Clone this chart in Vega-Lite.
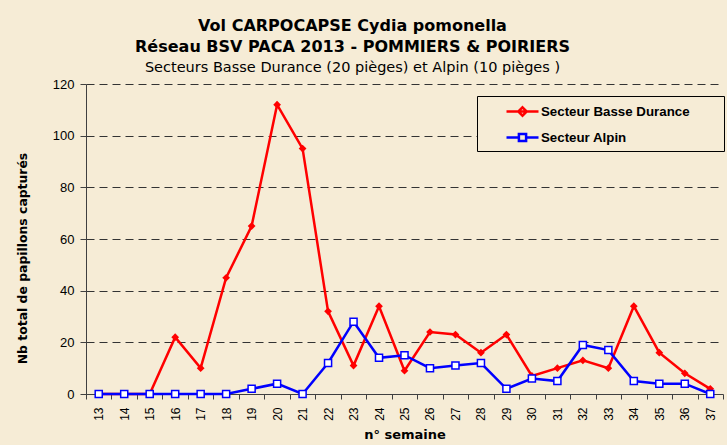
{
  "$schema": "https://vega.github.io/schema/vega-lite/v6.json",
  "width": 637,
  "height": 310,
  "autosize": "none",
  "padding": {"left": 86, "top": 84, "right": 4, "bottom": 51},
  "background": "#F6ECD6",
  "title": {
    "text": ["Vol  CARPOCAPSE Cydia pomonella", "Réseau BSV PACA 2013 - POMMIERS & POIRIERS"],
    "subtitle": "Secteurs Basse Durance (20 pièges) et Alpin (10 pièges )",
    "anchor": "middle",
    "frame": "group",
    "dx": -52,
    "font": "DejaVu Sans",
    "fontSize": 16,
    "fontWeight": "bold",
    "lineHeight": 21,
    "color": "#000000",
    "subtitleFont": "DejaVu Sans",
    "subtitleFontSize": 14.5,
    "subtitleColor": "#000000",
    "subtitlePadding": 6,
    "offset": 4
  },
  "data": {
    "values": [
      {"week": 13, "series": "Secteur Basse Durance", "value": 0},
      {"week": 14, "series": "Secteur Basse Durance", "value": 0},
      {"week": 15, "series": "Secteur Basse Durance", "value": 0},
      {"week": 16, "series": "Secteur Basse Durance", "value": 22},
      {"week": 17, "series": "Secteur Basse Durance", "value": 10},
      {"week": 18, "series": "Secteur Basse Durance", "value": 45},
      {"week": 19, "series": "Secteur Basse Durance", "value": 65},
      {"week": 20, "series": "Secteur Basse Durance", "value": 112},
      {"week": 21, "series": "Secteur Basse Durance", "value": 95},
      {"week": 22, "series": "Secteur Basse Durance", "value": 32},
      {"week": 23, "series": "Secteur Basse Durance", "value": 11},
      {"week": 24, "series": "Secteur Basse Durance", "value": 34},
      {"week": 25, "series": "Secteur Basse Durance", "value": 9},
      {"week": 26, "series": "Secteur Basse Durance", "value": 24},
      {"week": 27, "series": "Secteur Basse Durance", "value": 23},
      {"week": 28, "series": "Secteur Basse Durance", "value": 16},
      {"week": 29, "series": "Secteur Basse Durance", "value": 23},
      {"week": 30, "series": "Secteur Basse Durance", "value": 7},
      {"week": 31, "series": "Secteur Basse Durance", "value": 10},
      {"week": 32, "series": "Secteur Basse Durance", "value": 13},
      {"week": 33, "series": "Secteur Basse Durance", "value": 10},
      {"week": 34, "series": "Secteur Basse Durance", "value": 34},
      {"week": 35, "series": "Secteur Basse Durance", "value": 16},
      {"week": 36, "series": "Secteur Basse Durance", "value": 8},
      {"week": 37, "series": "Secteur Basse Durance", "value": 2},
      {"week": 13, "series": "Secteur Alpin", "value": 0},
      {"week": 14, "series": "Secteur Alpin", "value": 0},
      {"week": 15, "series": "Secteur Alpin", "value": 0},
      {"week": 16, "series": "Secteur Alpin", "value": 0},
      {"week": 17, "series": "Secteur Alpin", "value": 0},
      {"week": 18, "series": "Secteur Alpin", "value": 0},
      {"week": 19, "series": "Secteur Alpin", "value": 2},
      {"week": 20, "series": "Secteur Alpin", "value": 4},
      {"week": 21, "series": "Secteur Alpin", "value": 0},
      {"week": 22, "series": "Secteur Alpin", "value": 12},
      {"week": 23, "series": "Secteur Alpin", "value": 28},
      {"week": 24, "series": "Secteur Alpin", "value": 14},
      {"week": 25, "series": "Secteur Alpin", "value": 15},
      {"week": 26, "series": "Secteur Alpin", "value": 10},
      {"week": 27, "series": "Secteur Alpin", "value": 11},
      {"week": 28, "series": "Secteur Alpin", "value": 12},
      {"week": 29, "series": "Secteur Alpin", "value": 2},
      {"week": 30, "series": "Secteur Alpin", "value": 6},
      {"week": 31, "series": "Secteur Alpin", "value": 5},
      {"week": 32, "series": "Secteur Alpin", "value": 19},
      {"week": 33, "series": "Secteur Alpin", "value": 17},
      {"week": 34, "series": "Secteur Alpin", "value": 5},
      {"week": 35, "series": "Secteur Alpin", "value": 4},
      {"week": 36, "series": "Secteur Alpin", "value": 4},
      {"week": 37, "series": "Secteur Alpin", "value": 0}
    ]
  },
  "encoding": {
    "x": {
      "field": "week",
      "type": "ordinal",
      "scale": {"type": "band", "paddingInner": 0, "paddingOuter": 0},
      "axis": {
        "title": "n° semaine",
        "labelAngle": -90,
        "labelFontSize": 12,
        "labelPadding": 8,
        "tickBand": "extent",
        "tickSize": 5,
        "tickColor": "#404040",
        "domainColor": "#404040",
        "titleFont": "DejaVu Sans",
        "titleFontSize": 13,
        "titleFontWeight": "bold",
        "titlePadding": 8,
        "grid": false
      }
    },
    "y": {
      "field": "value",
      "type": "quantitative",
      "scale": {"domain": [0, 120], "nice": false},
      "axis": {
        "title": "Nb total de papillons capturés",
        "values": [0, 20, 40, 60, 80, 100, 120],
        "grid": true,
        "gridDash": [8, 5],
        "gridColor": "#333333",
        "gridWidth": 1,
        "gridOpacity": 1,
        "domainColor": "#404040",
        "tickColor": "#404040",
        "tickSize": 6,
        "labelFontSize": 13,
        "labelPadding": 6,
        "titleFont": "DejaVu Sans",
        "titleFontSize": 12.4,
        "titleFontWeight": "bold",
        "titlePadding": 23,
        "titleY": 174
      }
    }
  },
  "layer": [
    {
      "transform": [{"filter": "datum.series === 'Secteur Basse Durance'"}],
      "mark": {"type": "line", "color": "#FF0000", "strokeWidth": 2.5}
    },
    {
      "transform": [{"filter": "datum.series === 'Secteur Basse Durance'"}],
      "mark": {"type": "point", "shape": "diamond", "filled": true, "color": "#FF0000", "size": 60, "opacity": 1}
    },
    {
      "transform": [{"filter": "datum.series === 'Secteur Alpin'"}],
      "mark": {"type": "line", "color": "#0000FF", "strokeWidth": 2.5}
    },
    {
      "transform": [{"filter": "datum.series === 'Secteur Alpin'"}],
      "mark": {"type": "point", "shape": "square", "filled": false, "fill": "#FFFFFF", "fillOpacity": 1, "stroke": "#0000FF", "strokeWidth": 1.5, "size": 50, "opacity": 1}
    },
    {
      "mark": {"type": "point", "opacity": 0},
      "encoding": {
        "color": {
          "field": "series",
          "type": "nominal",
          "scale": {"domain": ["Secteur Basse Durance", "Secteur Alpin"], "range": ["#FF0000", "#0000FF"]},
          "legend": {
            "title": null,
            "orient": "none",
            "legendX": 391,
            "legendY": 12,
            "padding": 4,
            "strokeColor": "#000000",
            "fillColor": "#F6ECD6",
            "symbolSize": 400,
            "symbolOffset": 30,
            "symbolStrokeWidth": 2.5,
            "labelOffset": 7,
            "labelFont": "Liberation Sans",
            "labelFontSize": 13.3,
            "labelFontWeight": "bold",
            "labelColor": "#000000",
            "labelLimit": 260,
            "labelExpr": "datum.label + '\u2800\u2800\u2800'",
            "rowPadding": 5
          }
        },
        "fill": {
          "field": "series",
          "type": "nominal",
          "scale": {"domain": ["Secteur Basse Durance", "Secteur Alpin"], "range": ["#FF0000", "#FFFFFF"]}
        },
        "shape": {
          "field": "series",
          "type": "nominal",
          "scale": {
            "domain": ["Secteur Basse Durance", "Secteur Alpin"],
            "range": [
              "M-1.6,0H1.6M0,-0.42L0.42,0L0,0.42L-0.42,0Z",
              "M-1.6,0H-0.36M0.36,0H1.6M-0.36,-0.36H0.36V0.36H-0.36Z"
            ]
          }
        }
      }
    }
  ],
  "config": {
    "font": "Liberation Sans",
    "view": {"stroke": null},
    "axis": {"labelColor": "#000000", "titleColor": "#000000", "labelFont": "Liberation Sans"}
  }
}
